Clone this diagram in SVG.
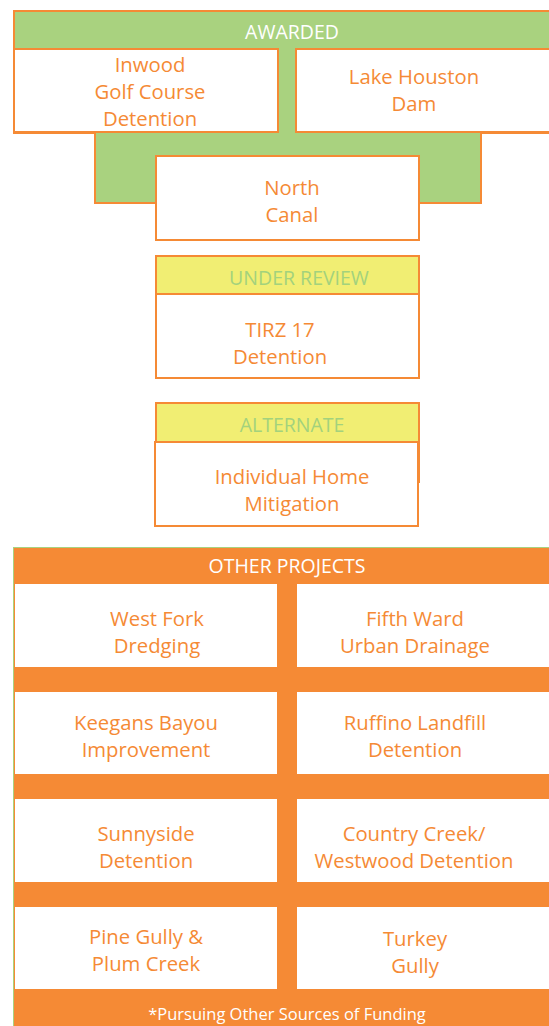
<svg xmlns="http://www.w3.org/2000/svg" width="549" height="1026" viewBox="0 0 549 1026">
<style>
.box{fill:#fff;stroke:#F58A35;stroke-width:2}
.grn{fill:#A9D27F;stroke:#F58A35;stroke-width:2}
.yel{fill:#F1EE73;stroke:#F58A35;stroke-width:2}
.ob{fill:#fff}
text{font-family:"Open Sans","Liberation Sans",sans-serif;text-anchor:middle}
.t{fill:#F58A35;font-size:20.3px}
.h{fill:#fff;font-size:19.5px}
.g{fill:#A3D27D;font-size:19.5px}
.f{fill:#fff;font-size:16.5px}
</style>
<rect width="549" height="1026" fill="#fff"/>
<g id="awarded">
<rect class="grn" x="14" y="11" width="545" height="122"/>
<text class="h" x="292" y="39">AWARDED</text>
<rect class="grn" x="95" y="132" width="386" height="71"/>
<rect x="279" y="50" width="16" height="84" fill="#A9D27F"/>
</g>
<g id="inwood">
<rect class="box" x="14" y="49" width="264" height="83"/>
<text class="t" x="150" y="72">Inwood</text>
<text class="t" x="150" y="99">Golf Course</text>
<text class="t" x="150" y="126">Detention</text>
</g>
<g id="lake-houston">
<rect class="box" x="296" y="49" width="263" height="83"/>
<text class="t" x="414" y="84">Lake Houston</text>
<text class="t" x="414" y="111">Dam</text>
</g>
<g id="north-canal">
<rect class="box" x="156" y="156" width="263" height="84"/>
<text class="t" x="292" y="195">North</text>
<text class="t" x="292" y="222">Canal</text>
</g>
<g id="under-review">
<rect class="yel" x="156" y="256" width="263" height="38"/>
<text class="g" x="299" y="285">UNDER REVIEW</text>
<rect class="box" x="156" y="294" width="263" height="84"/>
<text class="t" x="280" y="337">TIRZ 17</text>
<text class="t" x="280" y="364">Detention</text>
</g>
<g id="alternate">
<rect class="yel" x="156" y="403" width="263" height="79"/>
<text class="g" x="292" y="432">ALTERNATE</text>
<rect class="box" x="155" y="442" width="263" height="84"/>
<text class="t" x="292" y="484">Individual Home</text>
<text class="t" x="292" y="511">Mitigation</text>
</g>
<g id="other-projects">
<rect x="13.5" y="547.5" width="540" height="480" fill="#F58A35" stroke="#A9D27F" stroke-width="1"/>
<text class="h" x="287" y="573">OTHER PROJECTS</text>
<text class="f" x="287" y="1020">*Pursuing Other Sources of Funding</text>
</g>
<g id="west-fork">
<rect class="ob" x="15" y="584" width="262" height="83"/>
<text class="t" x="157" y="626">West Fork</text>
<text class="t" x="157" y="653">Dredging</text>
</g>
<g id="fifth-ward">
<rect class="ob" x="297" y="584" width="252" height="83"/>
<text class="t" x="415" y="626">Fifth Ward</text>
<text class="t" x="415" y="653">Urban Drainage</text>
</g>
<g id="keegans">
<rect class="ob" x="15" y="692" width="262" height="82"/>
<text class="t" x="146" y="730">Keegans Bayou</text>
<text class="t" x="146" y="757">Improvement</text>
</g>
<g id="ruffino">
<rect class="ob" x="297" y="692" width="252" height="82"/>
<text class="t" x="415" y="730">Ruffino Landfill</text>
<text class="t" x="415" y="757">Detention</text>
</g>
<g id="sunnyside">
<rect class="ob" x="15" y="799" width="262" height="83"/>
<text class="t" x="146" y="841">Sunnyside</text>
<text class="t" x="146" y="868">Detention</text>
</g>
<g id="country-creek">
<rect class="ob" x="297" y="799" width="252" height="83"/>
<text class="t" x="414" y="841">Country Creek/</text>
<text class="t" x="414" y="868">Westwood Detention</text>
</g>
<g id="pine-gully">
<rect class="ob" x="15" y="907" width="262" height="82"/>
<text class="t" x="146" y="944">Pine Gully &amp;</text>
<text class="t" x="146" y="971">Plum Creek</text>
</g>
<g id="turkey-gully">
<rect class="ob" x="297" y="907" width="252" height="82"/>
<text class="t" x="415" y="946">Turkey</text>
<text class="t" x="415" y="973">Gully</text>
</g>
<g id="connectors"></g>
</svg>
